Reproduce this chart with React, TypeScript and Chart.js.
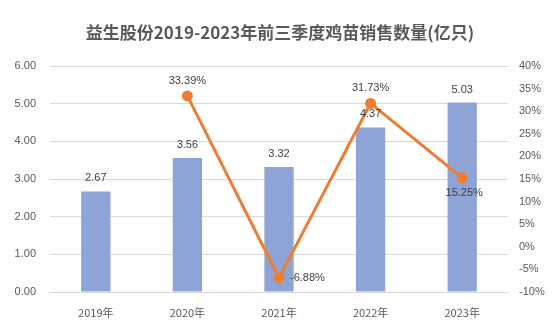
import React, { useEffect, useRef } from "react";
import { Chart, registerables } from "chart.js";

Chart.register(...registerables);

const categories = ["2019年", "2020年", "2021年", "2022年", "2023年"];
const salesVolume = [2.67, 3.56, 3.32, 4.37, 5.03];
const growthRate: (number | null)[] = [null, 33.39, -6.88, 31.73, 15.25];
const titleText = "益生股份2019-2023年前三季度鸡苗销售数量(亿只)";

const growthLabelPos = ["", "top", "right", "top", "bottom"];

const labelPlugin = {
  id: "customLabels",
  afterDatasetsDraw(chart: any) {
    const ctx = chart.ctx;
    ctx.save();
    ctx.font = "11px 'Liberation Sans', Arial, sans-serif";
    ctx.fillStyle = "#404040";
    const barMeta = chart.getDatasetMeta(0);
    barMeta.data.forEach((el: any, i: number) => {
      ctx.textAlign = "center";
      ctx.textBaseline = "middle";
      ctx.fillText(salesVolume[i].toFixed(2), el.x, el.y - 13);
    });
    const lineMeta = chart.getDatasetMeta(1);
    lineMeta.data.forEach((el: any, i: number) => {
      const v = growthRate[i];
      if (v === null || v === undefined) return;
      const txt = v.toFixed(2) + "%";
      const pos = growthLabelPos[i];
      ctx.textBaseline = "middle";
      if (pos === "top") {
        ctx.textAlign = "center";
        ctx.fillText(txt, el.x, el.y - 15);
      } else if (pos === "bottom") {
        ctx.textAlign = "center";
        ctx.fillText(txt, el.x + 2, el.y + 15);
      } else {
        ctx.textAlign = "left";
        ctx.fillText(txt, el.x + 11, el.y);
      }
    });
    ctx.font = "bold 17px 'Noto Sans CJK SC', sans-serif";
    ctx.fillStyle = "#595959";
    ctx.textAlign = "center";
    ctx.textBaseline = "middle";
    ctx.fillText(titleText, 280, 33);
    ctx.restore();
  },
};

export default function App() {
  const ref = useRef<HTMLCanvasElement>(null);
  useEffect(() => {
    document.body.style.margin = "0";
    const chart = new Chart(ref.current as HTMLCanvasElement, {
      type: "bar",
      data: {
        labels: categories,
        datasets: [
          {
            type: "bar",
            label: "销售数量",
            data: salesVolume,
            backgroundColor: "#8FA4D6",
            yAxisID: "y",
            barPercentage: 0.32,
            categoryPercentage: 1,
            order: 2,
          },
          {
            type: "line",
            label: "增速",
            data: growthRate,
            borderColor: "#ED7D31",
            backgroundColor: "#ED7D31",
            borderWidth: 3,
            pointRadius: 4,
            pointBackgroundColor: "#ED7D31",
            pointBorderColor: "#ED7D31",
            yAxisID: "y1",
            spanGaps: false,
            order: 1,
          } as any,
        ],
      },
      options: {
        responsive: false,
        animation: false,
        layout: { padding: { top: 66, left: 0, right: 0, bottom: 0 } },
        plugins: {
          legend: { display: false },
          title: { display: false },
          tooltip: { enabled: false },
        },
        scales: {
          x: {
            grid: { display: false },
            border: { display: true, color: "#D9D9D9" },
            ticks: {
              color: "#595959",
              font: { family: "'Noto Sans CJK SC', sans-serif", size: 11 },
              padding: 6,
            },
            afterFit: (s: any) => {
              s.height = 40;
            },
          },
          y: {
            position: "left",
            min: 0,
            max: 6,
            ticks: {
              stepSize: 1,
              color: "#595959",
              padding: 14,
              font: { family: "'Liberation Sans', Arial, sans-serif", size: 11 },
              callback: (v: any) => Number(v).toFixed(2),
            },
            grid: { color: "#D9D9D9", drawTicks: false },
            border: { display: false },
            afterFit: (s: any) => {
              s.width = 50;
            },
          },
          y1: {
            position: "right",
            min: -10,
            max: 40,
            ticks: {
              stepSize: 5,
              color: "#595959",
              padding: 11,
              font: { family: "'Liberation Sans', Arial, sans-serif", size: 11 },
              callback: (v: any) => v + "%",
            },
            grid: { display: false, drawTicks: false },
            border: { display: false },
            afterFit: (s: any) => {
              s.width = 45;
            },
          },
        },
      },
      plugins: [labelPlugin],
    });
    return () => chart.destroy();
  }, []);
  return (
    <div style={{ width: 553, height: 332 }}>
      <canvas ref={ref} width={553} height={332} />
    </div>
  );
}
